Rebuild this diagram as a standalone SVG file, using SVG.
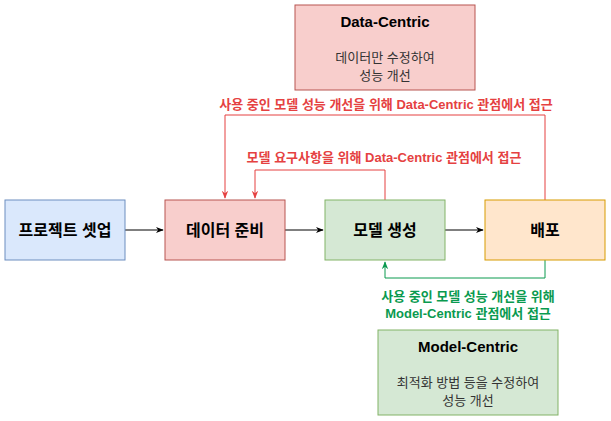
<svg xmlns="http://www.w3.org/2000/svg" width="611" height="421" viewBox="0 0 611 421">
<defs>
<style>
text{font-family:"Liberation Sans","Noto Sans CJK KR",sans-serif;text-anchor:middle}
.t{font-size:15px;font-weight:bold;fill:#000}
.m{font-size:16px;font-weight:bold;fill:#000}
.b{font-size:13px;fill:#333}
.r{font-size:13px;font-weight:bold;fill:#e54141}
.g{font-size:13px;font-weight:bold;fill:#0a9a4f}
.c{fill:none;stroke-width:1}
</style>
<marker id="ak" viewBox="0 0 10 10" refX="9" refY="5" markerWidth="8" markerHeight="8" orient="auto" markerUnits="userSpaceOnUse"><path d="M0,1 L10,5 L0,9 L3,5 Z" fill="#000"/></marker>
<marker id="ar" viewBox="0 0 10 10" refX="9" refY="5" markerWidth="8" markerHeight="8" orient="auto" markerUnits="userSpaceOnUse"><path d="M0,1 L10,5 L0,9 L3,5 Z" fill="#e54141"/></marker>
<marker id="ag" viewBox="0 0 10 10" refX="9" refY="5" markerWidth="8" markerHeight="8" orient="auto" markerUnits="userSpaceOnUse"><path d="M0,1 L10,5 L0,9 L3,5 Z" fill="#0a9a4f"/></marker>
</defs>
<g id="connectors">
<path class="c" stroke="#000" d="M125,230 L163,230" marker-end="url(#ak)"/>
<path class="c" stroke="#000" d="M285,230 L323,230" marker-end="url(#ak)"/>
<path class="c" stroke="#000" d="M445,230 L483,230" marker-end="url(#ak)"/>
<path class="c" stroke="#e54141" d="M545,200 L545,115 L225,115 L225,198" marker-end="url(#ar)"/>
<path class="c" stroke="#e54141" d="M385,200 L385,170 L255,170 L255,198" marker-end="url(#ar)"/>
<path class="c" stroke="#0a9a4f" d="M545,260 L545,278 L385,278 L385,262" marker-end="url(#ag)"/>
<text class="r" x="386" y="109">사용 중인 모델 성능 개선을 위해 Data-Centric 관점에서 접근</text>
<text class="r" x="384" y="162">모델 요구사항을 위해 Data-Centric 관점에서 접근</text>
<text class="g" x="468" y="301">사용 중인 모델 성능 개선을 위해</text>
<text class="g" x="468" y="318">Model-Centric 관점에서 접근</text>
</g>
<g id="data-centric">
<rect x="295" y="5" width="180" height="85" fill="#f8cecc" stroke="#b85450"/>
<text class="t" x="385" y="27">Data-Centric</text>
<text class="b" x="385" y="62">데이터만 수정하여</text>
<text class="b" x="385" y="80">성능 개선</text>
</g>
<g id="setup">
<rect x="5" y="200" width="120" height="60" fill="#dae8fc" stroke="#6c8ebf"/>
<text class="m" x="65" y="236">프로젝트 셋업</text>
</g>
<g id="data-prep">
<rect x="165" y="200" width="120" height="60" fill="#f8cecc" stroke="#b85450"/>
<text class="m" x="225" y="236">데이터 준비</text>
</g>
<g id="model">
<rect x="325" y="200" width="120" height="60" fill="#d5e8d4" stroke="#82b366"/>
<text class="m" x="385" y="236">모델 생성</text>
</g>
<g id="deploy">
<rect x="485" y="200" width="120" height="60" fill="#ffe6cc" stroke="#d79b00"/>
<text class="m" x="545" y="236">배포</text>
</g>
<g id="model-centric">
<rect x="378" y="330" width="180" height="85" fill="#d5e8d4" stroke="#82b366"/>
<text class="t" x="468" y="352">Model-Centric</text>
<text class="b" x="468" y="387">최적화 방법 등을 수정하여</text>
<text class="b" x="468" y="405">성능 개선</text>
</g>
</svg>
